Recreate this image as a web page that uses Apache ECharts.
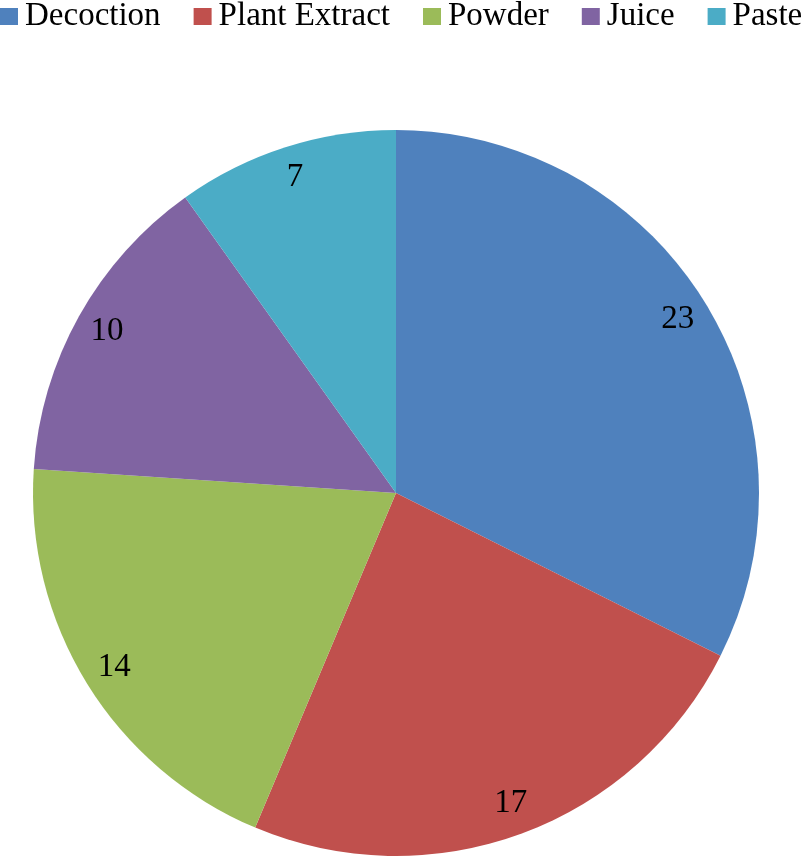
<!DOCTYPE html>
<html>
<head>
<meta charset="utf-8">
<script src="https://cdn.jsdelivr.net/npm/echarts@6/dist/echarts.min.js"></script>
<style>
  html, body { margin: 0; padding: 0; background: #fff; }
  #chart { width: 803px; height: 856px; }
</style>
</head>
<body>
<div id="chart"></div>
<script>
// Preparation forms: counts per category
var categories = ['Decoction', 'Plant Extract', 'Powder', 'Juice', 'Paste'];
var counts = [23, 17, 14, 10, 7];
var colors = ['#4F81BD', '#C0504D', '#9BBB59', '#8064A2', '#4BACC6'];

var serif = 'Liberation Serif';

var pieData = categories.map(function(name, i) {
  return { name: name, value: counts[i], itemStyle: { color: colors[i] } };
});

var chart = echarts.init(document.getElementById('chart'), null, { renderer: 'canvas' });
chart.setOption({
  animation: false,
  backgroundColor: '#fff',
  textStyle: { fontFamily: serif },
  legend: {
    data: categories,
    left: 0,
    top: 0,
    padding: 0,
    icon: 'rect',
    itemWidth: 18,
    itemHeight: 17,
    itemGap: 33,
    textStyle: {
      fontFamily: serif,
      fontSize: 33,
      lineHeight: 33,
      color: '#000',
      padding: [0, 0, 0, 2]
    }
  },
  series: [
    {
      // filled sectors
      type: 'pie',
      center: [396, 493],
      radius: 363,
      startAngle: 90,
      clockwise: true,
      silent: true,
      label: { show: false },
      labelLine: { show: false },
      itemStyle: { borderWidth: 0 },
      data: pieData
    },
    {
      // transparent ring that only carries the value labels near the rim
      type: 'pie',
      center: [396, 493],
      radius: [293, 363],
      startAngle: 90,
      clockwise: true,
      silent: true,
      itemStyle: { color: 'transparent', borderWidth: 0 },
      label: {
        show: true,
        position: 'inside',
        formatter: '{c}',
        fontFamily: serif,
        fontSize: 33,
        color: '#000'
      },
      labelLine: { show: false },
      data: counts.map(function(v, i) { return { name: categories[i], value: v }; })
    }
  ]
});
window.addEventListener('resize', function() { chart.resize(); });
</script>
</body>
</html>
